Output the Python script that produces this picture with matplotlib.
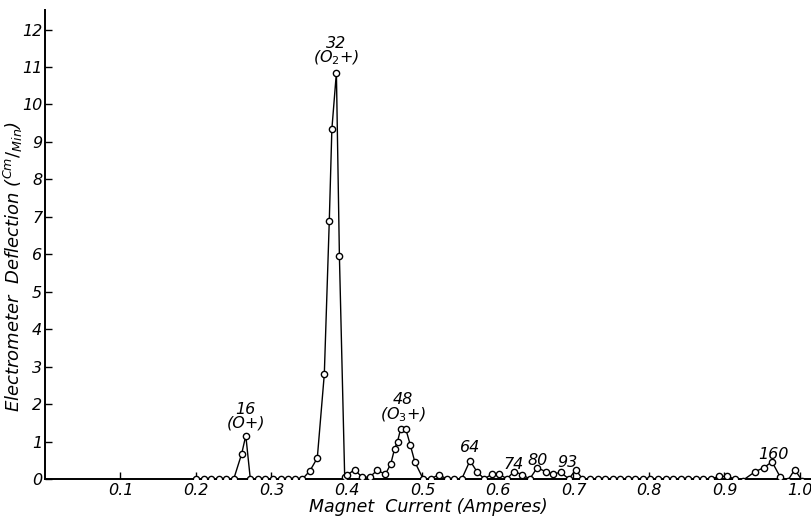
import matplotlib
matplotlib.use("Agg")
import matplotlib.pyplot as plt

plt.rcParams['font.family'] = ['DejaVu Sans']
plt.rcParams['mathtext.fontset'] = 'dejavusans'

# magnet current (A) and electrometer deflection (cm/min)
current = [0.200, 0.210, 0.220, 0.230, 0.240, 0.250, 0.2605, 0.266, 0.272,
           0.282, 0.292, 0.302, 0.312, 0.322, 0.331, 0.341, 0.351, 0.3607,
           0.370, 0.3766, 0.380, 0.386, 0.390, 0.397, 0.400, 0.410, 0.420,
           0.430, 0.440, 0.451, 0.458, 0.463, 0.467, 0.471, 0.478, 0.484,
           0.490, 0.501, 0.511, 0.522, 0.532, 0.542, 0.552, 0.563, 0.572,
           0.582, 0.592, 0.602, 0.612, 0.621, 0.632, 0.642, 0.652, 0.663,
           0.673, 0.683, 0.694, 0.703, 0.712, 0.722, 0.732, 0.742, 0.752,
           0.762, 0.772, 0.782, 0.792, 0.802, 0.812, 0.822, 0.832, 0.842,
           0.852, 0.862, 0.872, 0.882, 0.893, 0.904, 0.914, 0.924, 0.941,
           0.952, 0.963, 0.974, 0.984, 0.993, 1.003]
deflection = [0.0, 0.0, 0.0, 0.0, 0.0, 0.0, 0.67, 1.16, 0.0,
              0.0, 0.0, 0.0, 0.0, 0.0, 0.0, 0.0, 0.22, 0.56,
              2.8, 6.9, 9.34, 10.85, 5.95, 0.05, 0.1, 0.25, 0.05,
              0.05, 0.23, 0.13, 0.4, 0.8, 1.0, 1.33, 1.33, 0.9,
              0.45, 0.0, 0.0, 0.12, 0.0, 0.0, 0.0, 0.49, 0.2,
              0.0, 0.13, 0.13, 0.0, 0.2, 0.12, 0.0, 0.3, 0.2,
              0.13, 0.18, 0.0, 0.25, 0.0, 0.0, 0.0, 0.0, 0.0,
              0.0, 0.0, 0.0, 0.0, 0.0, 0.0, 0.0, 0.0, 0.0,
              0.0, 0.0, 0.0, 0.0, 0.07, 0.07, 0.0, -0.04, 0.2,
              0.3, 0.46, 0.05, -0.04, 0.25, -0.04]

# mass peaks to label
peak_x = [0.266, 0.386, 0.474, 0.563, 0.621, 0.652, 0.703, 0.963]
peak_y = [1.16, 10.85, 1.33, 0.49, 0.2, 0.3, 0.25, 0.46]
peak_labels = ["16\n(O+)", "32\n(O$_2$+)", "48\n(O$_3$+)", "64", "74", "80", "93", "160"]
# text offsets (points) of each peak label
label_dx = [0, 0, 0, 0, 0, 0, -6, 1]
label_dy = [4, 4, 4, 4, 0, 0, 0, 0]

xticks = [0.1, 0.2, 0.3, 0.4, 0.5, 0.6, 0.7, 0.8, 0.9, 1.0]
xticklabels = ["0.1", "0.2", "0.3", "0.4", "0.5", "0.6", "0.7", "0.8", "0.9", "1.0"]
yticks = list(range(0, 13))

fig = plt.figure(figsize=(8.12, 5.21), dpi=100)
ax = fig.add_axes([0.0554, 0.0806, 0.9446, 0.9])

ax.plot(current, deflection, color='black', lw=1.0, marker='o', ms=4.5,
        mfc='white', mec='black', mew=1.0, zorder=3)

for px, py, lab, dx, dy in zip(peak_x, peak_y, peak_labels, label_dx, label_dy):
    ax.annotate(lab, (px, py), xytext=(dx, dy), textcoords='offset points',
                ha='center', va='bottom', fontsize=11.5, style='italic',
                linespacing=0.85)

ax.set_xlim(0, 1.016)
ax.set_ylim(0, 12.52)
ax.spines['top'].set_visible(False)
ax.spines['right'].set_visible(False)
ax.spines['left'].set_linewidth(1.4)
ax.spines['bottom'].set_linewidth(1.4)

ax.set_xticks(xticks)
ax.set_xticklabels(xticklabels, style='italic', fontsize=11.5)
ax.set_yticks(yticks)
ax.set_yticklabels([str(v) for v in yticks], style='italic', fontsize=11.5)
ax.tick_params(axis='x', direction='in', length=5, width=1, pad=3)
ax.tick_params(axis='y', direction='in', length=5, width=1, pad=2)

ax.set_xlabel("Magnet  Current (Amperes)", style='italic', fontsize=12.5, labelpad=0)
fig.text(0.016, 0.489, r"Electrometer  Deflection ($^{Cm}/_{Min}$)", style='italic',
         fontsize=13, rotation=90, ha='center', va='center')

fig.savefig("out.png", dpi=100)
